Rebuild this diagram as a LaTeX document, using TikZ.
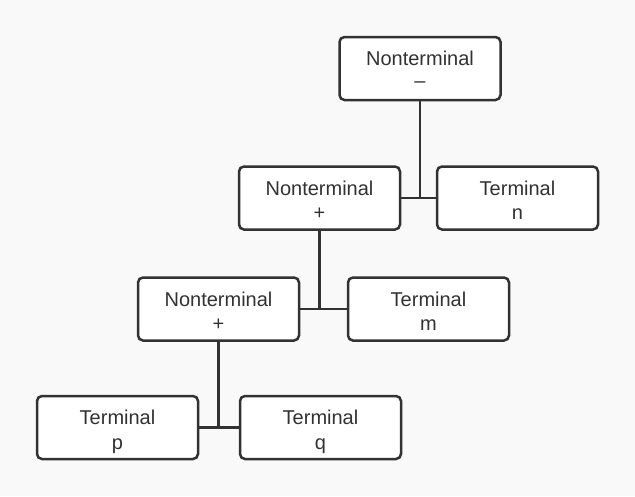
\documentclass[tikz,border=0pt]{standalone}
\usepackage{fontspec}
\setmainfont{Liberation Sans}
\definecolor{bg}{HTML}{F9F9F9}
\definecolor{ink}{HTML}{323232}
\begin{document}
\begin{tikzpicture}[x=1pt,y=-1pt,
  box/.style={draw=ink, line width=2.5pt, rounded corners=5pt, fill=white,
    minimum width=161pt, minimum height=63pt, inner sep=0pt,
    text height=43.5pt, text depth=0pt,
    align=center, text=ink, font=\fontsize{20}{24.5}\selectfont},
  link/.style={draw=ink, line width=2.5pt}]
\fill[bg] (0,0) rectangle (635,496);
\useasboundingbox (0,0) rectangle (635,496);
\node[box] (n1) at (420,68.5) {Nonterminal\\\raisebox{0.3ex}{--}};
\node[box] (n2) at (319.5,198) {Nonterminal\\+};
\node[box] (t3) at (517.5,198) {Terminal\\n};
\node[box] (n4) at (218.5,309) {Nonterminal\\+};
\node[box] (t5) at (428.5,309) {Terminal\\m};
\node[box] (t6) at (117.5,427.5) {Terminal\\p};
\node[box] (t7) at (320.5,427.5) {Terminal\\q};
\draw[link] (n2.east) -- (t3.west);
\draw[link] (n1.south) -- (n1.south |- t3.west);
\draw[link] (n4.east) -- (t5.west);
\draw[link] (n2.south) -- (n2.south |- t5.west);
\draw[link] (t6.east) -- (t7.west);
\draw[link] (n4.south) -- (n4.south |- t7.west);
\end{tikzpicture}
\end{document}
